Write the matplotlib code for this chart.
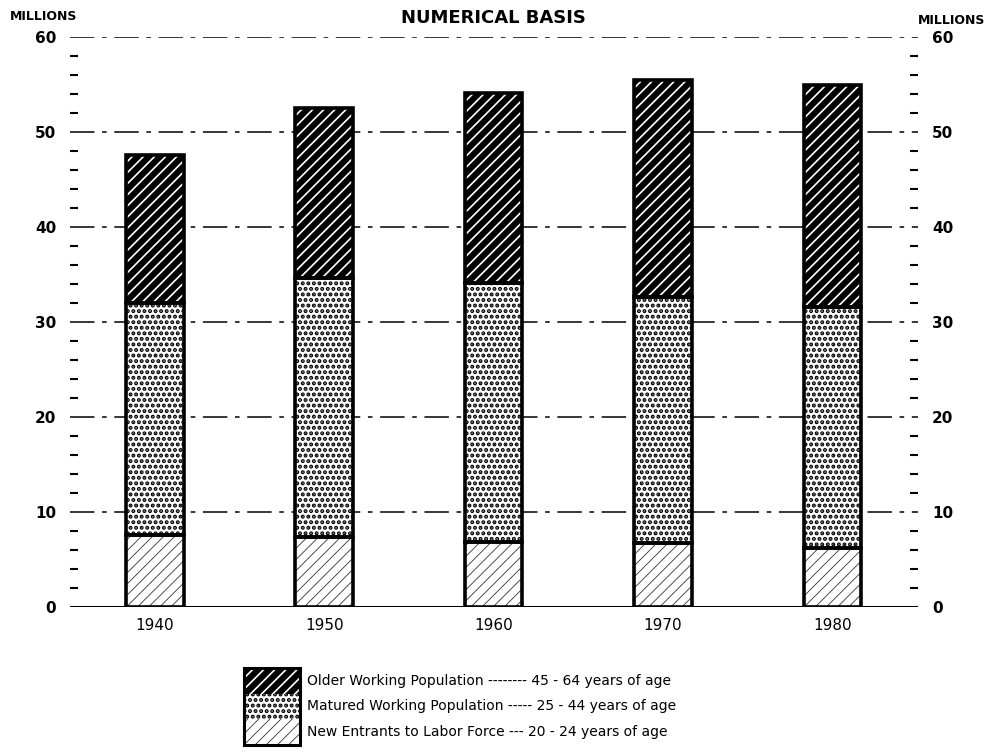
import matplotlib
matplotlib.use("Agg")
import matplotlib.pyplot as plt
from matplotlib.patches import Rectangle
import numpy as np

years = [1940, 1950, 1960, 1970, 1980]
new_entrants = [7.6, 7.4, 6.8, 6.7, 6.2]          # 20-24
matured = [24.4, 27.2, 27.3, 25.9, 25.4]          # 25-44
older = [15.6, 17.9, 20.0, 22.9, 23.3]            # 45-64
legend_labels = [
    "Older Working Population -------- 45 - 64 years of age",
    "Matured Working Population ----- 25 - 44 years of age",
    "New Entrants to Labor Force --- 20 - 24 years of age",
]

plt.rcParams['font.family'] = ['DejaVu Sans']

fig = plt.figure(figsize=(9.86, 7.55), dpi=100)
ax = fig.add_axes([70/986, 1-607/755, (918-70)/986, (607-37)/755])

x = np.array(years, dtype=float)
w = 3.4
bottom2 = np.array(new_entrants)
bottom3 = bottom2 + np.array(matured)

STYLES = {
    'new': ('white', '#333333', '///', 0.6),
    'mat': ('white', 'black', '...', 2.0),
    'old': ('black', 'white', '///', 1.2),
}


def hatched_bar(xs, h, b, key):
    face, hc, hatch, hlw = STYLES[key]
    with plt.rc_context({'hatch.linewidth': hlw}):
        bars = ax.bar(xs, h, w, bottom=b, color=face, edgecolor=hc,
                      hatch=hatch, linewidth=0, zorder=3)
    for p in bars:
        if hasattr(p, 'set_hatch_linewidth'):
            p.set_hatch_linewidth(hlw)
    ax.bar(xs, h, w, bottom=b, facecolor='none', edgecolor='black',
           linewidth=2.6, zorder=4)


hatched_bar(x, new_entrants, 0, 'new')
hatched_bar(x, matured, bottom2, 'mat')
hatched_bar(x, older, bottom3, 'old')

ax.set_xlim(1935.0, 1985.05)
ax.set_ylim(0, 60)

for v in range(10, 61, 10):
    ax.axhline(v, color='black', linewidth=1.1, linestyle=(0, (16, 5, 3, 5)), zorder=1)
ax.axhline(0, color='black', linewidth=2.2, zorder=5)

for s in ax.spines.values():
    s.set_visible(False)

ax.set_xticks(years)
ax.set_xticklabels([str(y) for y in years], fontsize=11)
ax.tick_params(axis='x', length=0, pad=8)

ax.set_yticks(range(0, 61, 10))
ax.set_yticks(np.arange(0, 61, 2), minor=True)
ax.tick_params(axis='y', which='major', length=0, labelsize=11, pad=10,
               left=True, right=True, labelleft=True, labelright=True)
ax.tick_params(axis='y', which='minor', direction='in', length=6, width=1.5,
               left=True, right=True)
for lab in ax.get_yticklabels():
    lab.set_fontweight('bold')

fig.text(0.5, 1-18/755, "NUMERICAL BASIS", ha='center', va='center',
         fontsize=13, fontweight='bold')
fig.text(10/986, 1-16/755, "MILLIONS", ha='left', va='center',
         fontsize=9, fontweight='bold')
fig.text(985/986, 1-21/755, "MILLIONS", ha='right', va='center',
         fontsize=9, fontweight='bold')

# legend
lax = fig.add_axes([0, 0, 1, 1], facecolor='none')
lax.set_xlim(0, 986)
lax.set_ylim(755, 0)
lax.axis('off')
row_top = 668
row_h = 25.5
for i, (lab, key) in enumerate(zip(legend_labels, ['old', 'mat', 'new'])):
    face, hc, hatch, hlw = STYLES[key]
    y0 = row_top + i * row_h
    with plt.rc_context({'hatch.linewidth': hlw}):
        r = Rectangle((244, y0), 56, row_h, facecolor=face, edgecolor=hc,
                      hatch=hatch, linewidth=0)
    if hasattr(r, 'set_hatch_linewidth'):
        r.set_hatch_linewidth(hlw)
    lax.add_patch(r)
    lax.text(307, y0 + row_h/2, lab, ha='left', va='center', fontsize=10)
lax.add_patch(Rectangle((244, row_top), 56, 3*row_h, facecolor='none',
                        edgecolor='black', linewidth=2.2))

fig.savefig("out.png", dpi=100)
